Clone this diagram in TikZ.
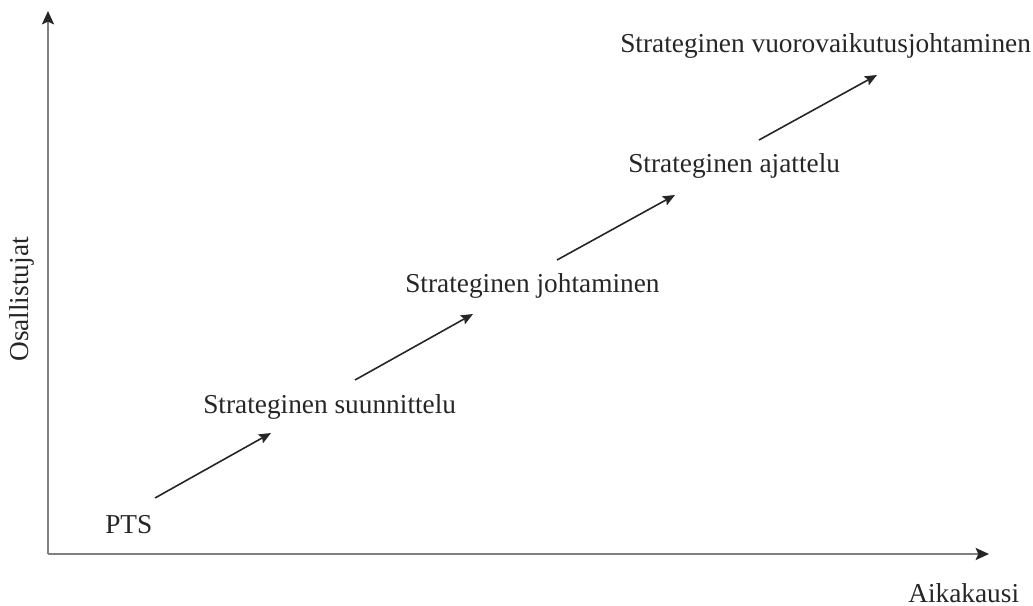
\documentclass[tikz,border=0pt]{standalone}
\usepackage{fontspec}
\setmainfont{Liberation Serif}
\usetikzlibrary{arrows.meta}
\begin{document}
\begin{tikzpicture}[x=0.75pt,y=-0.75pt,
  lbl/.style={anchor=base west,inner sep=0pt,text=black!85,font=\fontsize{20.5}{24}\selectfont},
  axis/.style={draw=black!50,line width=1.8pt,-{Stealth[length=10pt,width=9pt,inset=2pt,color=black!85]}},
  stp/.style={draw=black!85,line width=1.2pt,-{Stealth[length=9pt,width=7.5pt,inset=1.5pt]}}]
\useasboundingbox (0,0) rectangle (1033,606);
% axes
\coordinate (O) at (48,554);
\coordinate (ytip) at (48,11);
\coordinate (xtip) at (989,554);
\draw[axis] (O) -- (ytip);
\draw[axis] (O) -- (xtip);
% labels
\node[lbl] (pts) at (105,533) {PTS};
\node[lbl] (suun) at (203,413) {Strateginen suunnittelu};
\node[lbl] (joht) at (405,293) {Strateginen johtaminen};
\node[lbl] (ajat) at (628,173) {Strateginen ajattelu};
\node[lbl] (vuor) at (620,53) {Strateginen vuorovaikutusjohtaminen};
\node[lbl] (aika) at (908,602) {Aikakausi};
\node[lbl,rotate=90] (osal) at (28,362) {Osallistujat};
% steps
\coordinate (a1s) at (155,498); \coordinate (a1e) at (271,433);
\coordinate (a2s) at (355,380); \coordinate (a2e) at (473,314);
\coordinate (a3s) at (557,260); \coordinate (a3e) at (675,195);
\coordinate (a4s) at (759,140); \coordinate (a4e) at (877,75);
\draw[stp] (a1s) -- (a1e);
\draw[stp] (a2s) -- (a2e);
\draw[stp] (a3s) -- (a3e);
\draw[stp] (a4s) -- (a4e);
\end{tikzpicture}
\end{document}
